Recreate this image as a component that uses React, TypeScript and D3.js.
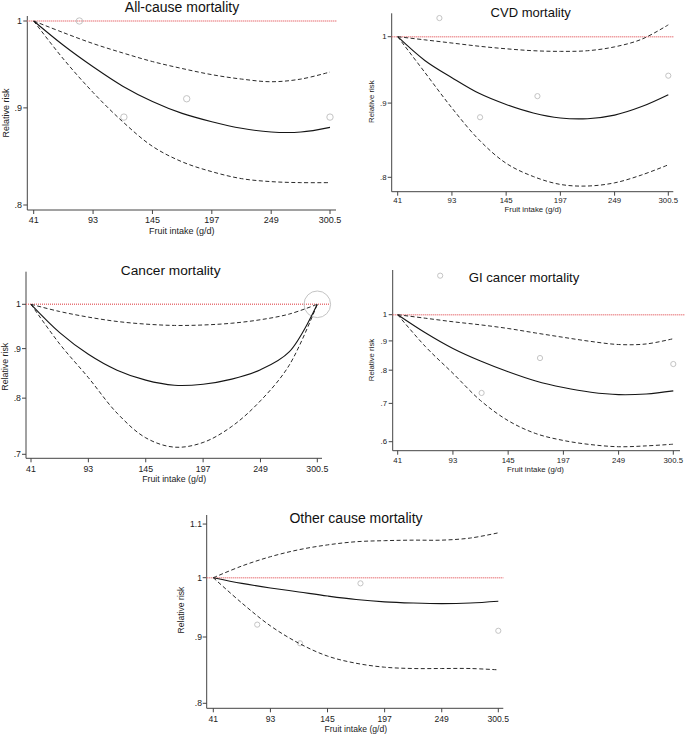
import React from "react";
import * as d3 from "d3";

const intake = [41, 67, 93, 119, 145, 171, 197, 223, 249, 275, 300.5];
const pointIntake = [81, 120, 175, 300.5];
const xTicks = [41, 93, 145, 197, 249, 300.5];

const allSolid = [1, 0.971, 0.946, 0.924, 0.907, 0.894, 0.885, 0.878, 0.874, 0.874, 0.879];
const allUpper = [1, 0.986, 0.973, 0.962, 0.952, 0.944, 0.937, 0.932, 0.929, 0.932, 0.94];
const allLower = [1, 0.955, 0.917, 0.885, 0.859, 0.843, 0.833, 0.826, 0.823, 0.822, 0.822];
const allPts = [1.0, 0.89, 0.91, 0.89];

const cvdSolid = [1, 0.963, 0.937, 0.914, 0.898, 0.886, 0.879, 0.878, 0.883, 0.895, 0.912];
const cvdUpper = [1, 0.995, 0.99, 0.985, 0.981, 0.978, 0.977, 0.978, 0.984, 0.996, 1.019];
const cvdLower = [1, 0.945, 0.893, 0.849, 0.818, 0.801, 0.791, 0.789, 0.793, 0.803, 0.816];
const cvdPts = [1.03, 0.88, 0.91, 0.94];

const cancerSolid = [1, 0.935, 0.888, 0.855, 0.835, 0.825, 0.827, 0.837, 0.856, 0.893, 1];
const cancerUpper = [1, 0.983, 0.97, 0.96, 0.954, 0.951, 0.952, 0.956, 0.964, 0.977, 1];
const cancerLower = [1, 0.91, 0.84, 0.772, 0.728, 0.712, 0.72, 0.748, 0.795, 0.865, 1];
const cancerPtIntake = [300.5];
const cancerPts = [1.0];

const giSolid = [1, 0.93, 0.873, 0.83, 0.795, 0.766, 0.746, 0.732, 0.725, 0.727, 0.736];
const giUpper = [1, 0.986, 0.972, 0.96, 0.946, 0.929, 0.913, 0.898, 0.887, 0.889, 0.908];
const giLower = [1, 0.88, 0.79, 0.708, 0.653, 0.62, 0.603, 0.593, 0.588, 0.59, 0.594];
const giPts = [1.17, 0.73, 0.84, 0.82];

const otherSolid = [1, 0.99, 0.982, 0.975, 0.968, 0.962, 0.958, 0.956, 0.955, 0.956, 0.959];
const otherUpper = [1, 1.021, 1.038, 1.051, 1.06, 1.066, 1.068, 1.069, 1.069, 1.073, 1.083];
const otherLower = [1, 0.956, 0.918, 0.89, 0.87, 0.859, 0.853, 0.851, 0.851, 0.851, 0.849];
const otherPts = [0.92, 0.89, 0.99, 0.91];

const FONT = "'Liberation Sans', Arial, Helvetica, sans-serif";

type PanelProps = {
  title: string;
  solid: number[];
  upper: number[];
  lower: number[];
  ptX: number[];
  ptY: number[];
  ptR: number;
  yTicks: number[];
  lay: {
    x41: number; x300: number; axL: number; axR: number; redR: number;
    yTop: number; yBot: number; y1: number; yLowV: number; yLowPx: number;
    titleX: number; titleY: number; titleFs: number; tickFs: number; axFs: number;
    xLabY: number; xTitleY: number; yLabR: number; yTitleX: number; yTitleY: number;
  };
};

function fmt(v: number) {
  const s = String(v);
  return s.startsWith("0.") ? s.slice(1) : s;
}

function Panel({ title, solid, upper, lower, ptX, ptY, ptR, yTicks, lay }: PanelProps) {
  const x = d3.scaleLinear().domain([41, 300.5]).range([lay.x41, lay.x300]);
  const y = d3.scaleLog().domain([1, lay.yLowV]).range([lay.y1, lay.yLowPx]);
  const line = d3
    .line<number>()
    .x((_, i) => x(intake[i]))
    .y((d) => y(d))
    .curve(d3.curveCatmullRom.alpha(0.5));
  const axisColor = "#444";
  return (
    <g>
      <text x={lay.titleX} y={lay.titleY} textAnchor="middle" fontFamily={FONT} fontSize={lay.titleFs} fill="#111">
        {title}
      </text>
      <line x1={lay.axL} x2={lay.axL} y1={lay.yTop} y2={lay.yBot} stroke={axisColor} strokeWidth={1} />
      <line x1={lay.axL} x2={lay.axR} y1={lay.yBot} y2={lay.yBot} stroke={axisColor} strokeWidth={1} />
      {yTicks.map((t) => (
        <g key={"y" + t}>
          <line x1={lay.axL - 4} x2={lay.axL} y1={y(t)} y2={y(t)} stroke={axisColor} strokeWidth={1} />
          <text x={lay.yLabR} y={y(t)} dy="0.35em" textAnchor="end" fontFamily={FONT} fontSize={lay.tickFs} fill="#222">
            {fmt(t)}
          </text>
        </g>
      ))}
      {xTicks.map((t) => (
        <g key={"x" + t}>
          <line x1={x(t)} x2={x(t)} y1={lay.yBot} y2={lay.yBot + 4} stroke={axisColor} strokeWidth={1} />
          <text x={x(t)} y={lay.xLabY} textAnchor="middle" fontFamily={FONT} fontSize={lay.tickFs} fill="#222">
            {String(t)}
          </text>
        </g>
      ))}
      <text x={(lay.x41 + lay.x300) / 2} y={lay.xTitleY} textAnchor="middle" fontFamily={FONT} fontSize={lay.axFs} fill="#222">
        Fruit intake (g/d)
      </text>
      <text
        transform={`translate(${lay.yTitleX},${lay.yTitleY}) rotate(-90)`}
        textAnchor="middle"
        dy="0.35em"
        fontFamily={FONT}
        fontSize={lay.axFs}
        fill="#222"
      >
        Relative risk
      </text>
      <line x1={lay.axL} x2={lay.redR} y1={y(1)} y2={y(1)} stroke="#e8767a" strokeWidth={1.6} strokeDasharray="1,1" />
      {ptY.map((v, i) => (
        <circle key={"p" + i} cx={x(ptX[i])} cy={y(v)} r={ptR} fill="none" stroke="#c4c4c4" strokeWidth={1} />
      ))}
      <path d={line(upper) || ""} fill="none" stroke="#2a2a2a" strokeWidth={1} strokeDasharray="4,2.5" />
      <path d={line(lower) || ""} fill="none" stroke="#2a2a2a" strokeWidth={1} strokeDasharray="4,2.5" />
      <path d={line(solid) || ""} fill="none" stroke="#151515" strokeWidth={1.1} />
    </g>
  );
}

export default function App() {
  return (
    <svg
      width={685}
      height={735}
      style={{ position: "absolute", left: 0, top: 0, background: "#fff" }}
    >
      <rect width={685} height={735} fill="#fff" />
      <Panel
        title="All-cause mortality"
        solid={allSolid}
        upper={allUpper}
        lower={allLower}
        ptX={pointIntake}
        ptY={allPts}
        ptR={3.2}
        yTicks={[0.8, 0.9, 1]}
        lay={{
          x41: 33.7, x300: 330, axL: 27.3, axR: 336, redR: 337,
          yTop: 16, yBot: 210, y1: 21, yLowV: 0.8, yLowPx: 205,
          titleX: 182, titleY: 12, titleFs: 14, tickFs: 9, axFs: 9,
          xLabY: 223, xTitleY: 233.5, yLabR: 22, yTitleX: 5.5, yTitleY: 113,
        }}
      />
      <Panel
        title="CVD mortality"
        solid={cvdSolid}
        upper={cvdUpper}
        lower={cvdLower}
        ptX={pointIntake}
        ptY={cvdPts}
        ptR={2.6}
        yTicks={[0.8, 0.9, 1]}
        lay={{
          x41: 397.7, x300: 668.3, axL: 391.7, axR: 673.3, redR: 674,
          yTop: 13.3, yBot: 191.7, y1: 36.7, yLowV: 0.8, yLowPx: 177.3,
          titleX: 530.7, titleY: 17.3, titleFs: 13, tickFs: 7.8, axFs: 7.8,
          xLabY: 203, xTitleY: 211.5, yLabR: 386.5, yTitleX: 371.7, yTitleY: 101.7,
        }}
      />
      <Panel
        title="Cancer mortality"
        solid={cancerSolid}
        upper={cancerUpper}
        lower={cancerLower}
        ptX={cancerPtIntake}
        ptY={cancerPts}
        ptR={13.3}
        yTicks={[0.7, 0.8, 0.9, 1]}
        lay={{
          x41: 31, x300: 317.3, axL: 26, axR: 322, redR: 330,
          yTop: 271.7, yBot: 458.3, y1: 304.3, yLowV: 0.7, yLowPx: 454.3,
          titleX: 170.7, titleY: 275, titleFs: 13.7, tickFs: 8.8, axFs: 8.8,
          xLabY: 471.5, xTitleY: 481.5, yLabR: 21, yTitleX: 5, yTitleY: 366.7,
        }}
      />
      <Panel
        title="GI cancer mortality"
        solid={giSolid}
        upper={giUpper}
        lower={giLower}
        ptX={pointIntake}
        ptY={giPts}
        ptR={2.6}
        yTicks={[0.6, 0.7, 0.8, 0.9, 1]}
        lay={{
          x41: 397.7, x300: 673.3, axL: 392.7, axR: 680, redR: 685,
          yTop: 270, yBot: 450.7, y1: 314.7, yLowV: 0.6, yLowPx: 441.7,
          titleX: 524, titleY: 281.7, titleFs: 13.2, tickFs: 7.8, axFs: 7.8,
          xLabY: 463, xTitleY: 472, yLabR: 387, yTitleX: 371.7, yTitleY: 360,
        }}
      />
      <Panel
        title="Other cause mortality"
        solid={otherSolid}
        upper={otherUpper}
        lower={otherLower}
        ptX={pointIntake}
        ptY={otherPts}
        ptR={2.6}
        yTicks={[0.8, 0.9, 1, 1.1]}
        lay={{
          x41: 213.3, x300: 498.3, axL: 206.7, axR: 503.3, redR: 503.3,
          yTop: 515, yBot: 708.3, y1: 577.7, yLowV: 0.8, yLowPx: 703.3,
          titleX: 356, titleY: 522.7, titleFs: 14, tickFs: 8.6, axFs: 8.6,
          xLabY: 721.5, xTitleY: 731.5, yLabR: 202, yTitleX: 180.7, yTitleY: 610,
        }}
      />
    </svg>
  );
}
